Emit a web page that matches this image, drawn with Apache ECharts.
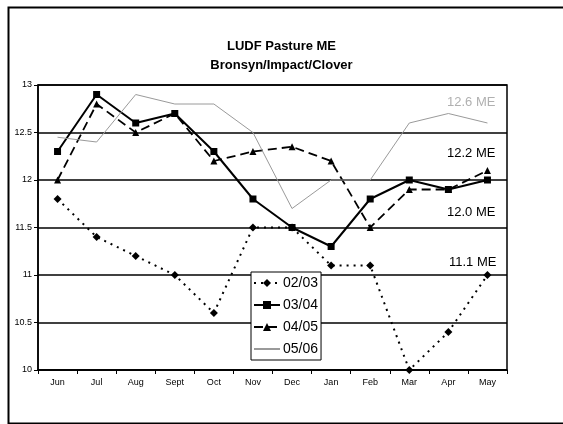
<!DOCTYPE html>
<html>
<head>
<meta charset="utf-8">
<script src="https://cdn.jsdelivr.net/npm/echarts@6/dist/echarts.min.js"></script>
<style>
  html, body { margin: 0; padding: 0; background: #fff; }
  #chart { width: 563px; height: 424px; }
</style>
</head>
<body>
<div id="chart"></div>
<script>
// 数据
const months = ['Jun', 'Jul', 'Aug', 'Sept', 'Oct', 'Nov', 'Dec', 'Jan', 'Feb', 'Mar', 'Apr', 'May'];
const s0203 = [11.8, 11.4, 11.2, 11.0, 10.6, 11.5, 11.5, 11.1, 11.1, 10.0, 10.4, 11.0];
const s0304 = [12.3, 12.9, 12.6, 12.7, 12.3, 11.8, 11.5, 11.3, 11.8, 12.0, 11.9, 12.0];
const s0405 = [12.0, 12.8, 12.5, 12.7, 12.2, 12.3, 12.35, 12.2, 11.5, 11.9, 11.9, 12.1];
const s0506 = [12.45, 12.4, 12.9, 12.8, 12.8, 12.5, 11.7, 12.0, 12.0, 12.6, 12.7, 12.6];
const seriesNames = ['02/03', '03/04', '04/05', '05/06'];
const notes = ['12.6 ME', '12.2 ME', '12.0 ME', '11.1 ME'];

const FONT = '"Liberation Sans Narrow", "Liberation Sans", Arial, sans-serif';

const chart = echarts.init(document.getElementById('chart'), null, { renderer: 'canvas' });

const option = {
  backgroundColor: '#fff',
  animation: false,
  title: {
    text: 'LUDF Pasture ME\nBronsyn/Impact/Clover',
    left: 'center',
    top: 32,
    textStyle: { fontFamily: FONT, fontSize: 13, fontWeight: 'bold', color: '#000', lineHeight: 19 }
  },
  legend: {
    orient: 'vertical',
    left: 251,
    top: 272,
    padding: [4, 3, 4, 2],
    itemGap: 8,
    itemWidth: 26,
    itemHeight: 10,
    borderColor: '#000',
    borderWidth: 1,
    backgroundColor: '#fff',
    data: [
      seriesNames[0], seriesNames[1], seriesNames[2],
      { name: seriesNames[3], itemStyle: { opacity: 0 } }
    ],
    textStyle: { fontFamily: FONT, fontSize: 14, color: '#000', padding: [0, 0, 0, -2] }
  },
  grid: { left: 38, right: 56, top: 85, bottom: 54, show: true, borderColor: '#000', borderWidth: 1.5 },
  xAxis: {
    type: 'category',
    data: months,
    boundaryGap: true,
    axisLine: { lineStyle: { color: '#000', width: 1.5 } },
    axisTick: { show: true, length: 4, lineStyle: { color: '#000' } },
    axisLabel: { fontFamily: FONT, fontSize: 9, color: '#000', margin: 8 }
  },
  yAxis: {
    type: 'value',
    min: 10,
    max: 13,
    interval: 0.5,
    axisLine: { show: true, lineStyle: { color: '#000', width: 1.5 } },
    axisTick: { show: true, length: 4, lineStyle: { color: '#000' } },
    axisLabel: { fontFamily: FONT, fontSize: 9, color: '#000', margin: 6 },
    splitLine: { lineStyle: { color: '#000', width: 1.5 } }
  },
  series: [
    {
      name: seriesNames[0], type: 'line', data: s0203,
      symbol: 'diamond', symbolSize: 8,
      lineStyle: { color: '#000', width: 2, type: [2, 5] },
      itemStyle: { color: '#000' }
    },
    {
      name: seriesNames[1], type: 'line', data: s0304,
      symbol: 'rect', symbolSize: 7,
      lineStyle: { color: '#000', width: 2 },
      itemStyle: { color: '#000' }
    },
    {
      name: seriesNames[2], type: 'line', data: s0405,
      symbol: 'triangle', symbolSize: 7,
      lineStyle: { color: '#000', width: 1.8, type: [9, 5] },
      itemStyle: { color: '#000' }
    },
    {
      name: seriesNames[3], type: 'line', data: s0506,
      symbol: 'none',
      lineStyle: { color: '#9a9a9a', width: 1 },
      itemStyle: { color: '#9a9a9a' }
    }
  ],
  graphic: [
    // 外框（右侧超出画面）
    { type: 'rect', left: 6, top: 5, shape: { width: 580, height: 416 }, style: { fill: 'none', stroke: '#000', lineWidth: 2 }, silent: true },
    { type: 'text', left: 447, top: 96, style: { text: notes[0], fill: '#b0b0b0', font: '13px ' + FONT } },
    { type: 'text', left: 447, top: 147, style: { text: notes[1], fill: '#000', font: '13px ' + FONT } },
    { type: 'text', left: 447, top: 206, style: { text: notes[2], fill: '#000', font: '13px ' + FONT } },
    { type: 'text', left: 449, top: 256, style: { text: notes[3], fill: '#000', font: '13px ' + FONT } }
  ]
};

chart.setOption(option);
</script>
</body>
</html>
